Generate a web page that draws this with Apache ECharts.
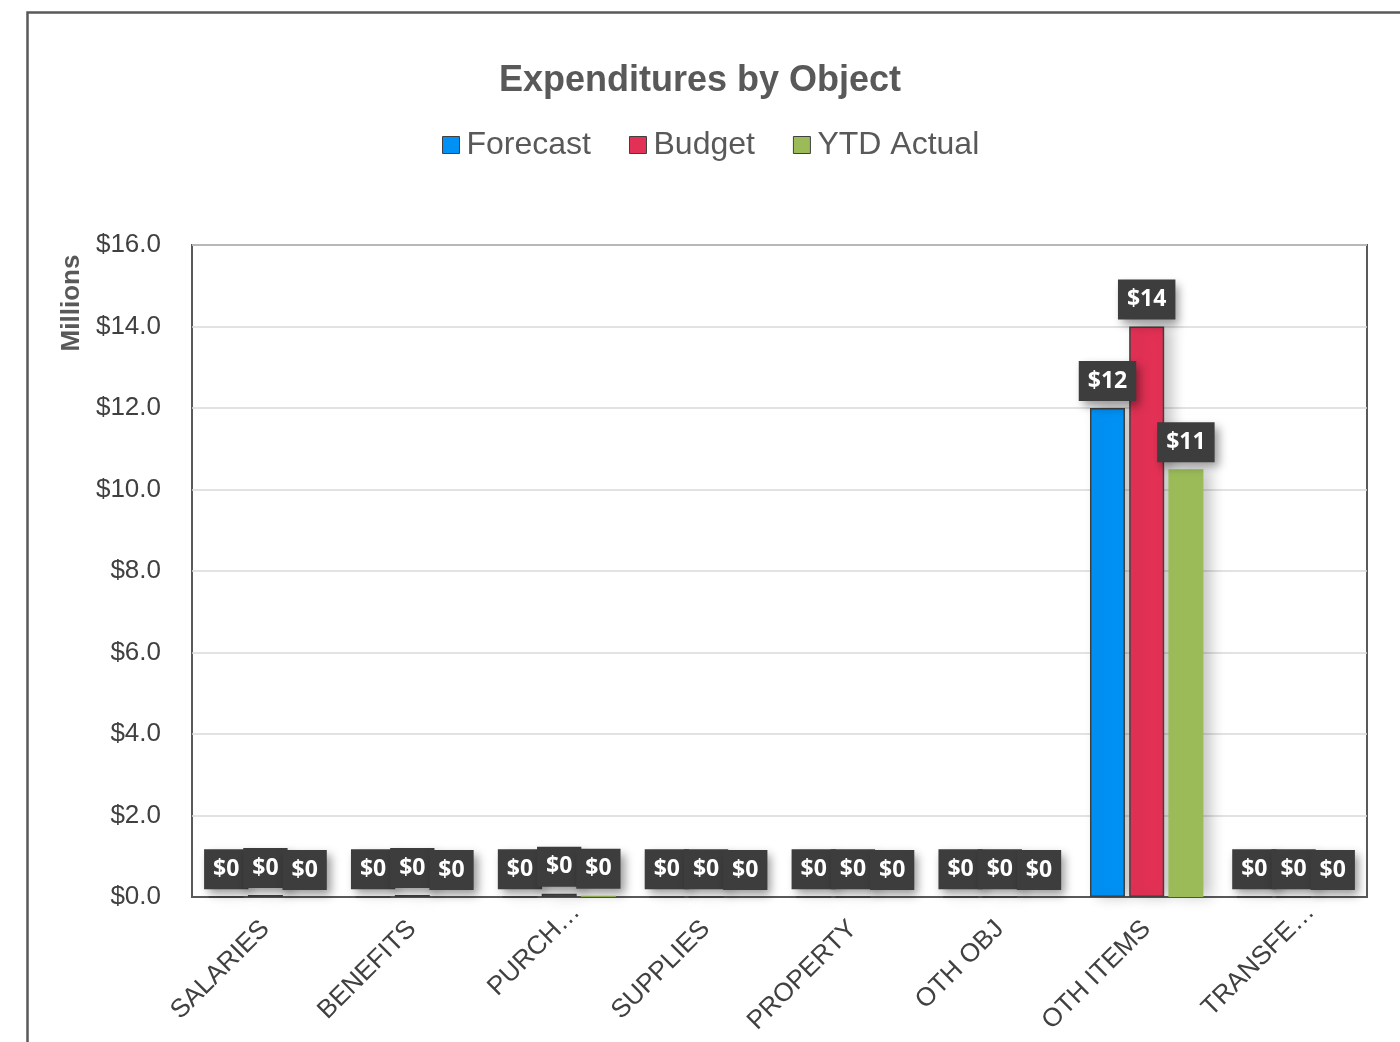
<!DOCTYPE html>
<html>
<head>
<meta charset="utf-8">
<title>Expenditures by Object</title>
<script src="https://cdn.jsdelivr.net/npm/echarts@6/dist/echarts.min.js"></script>
<style>
  html, body { margin: 0; padding: 0; background: #ffffff; }
  #chart { width: 1400px; height: 1042px; }
</style>
</head>
<body>
<div id="chart"></div>
<script>
// Expenditure categories (labels as printed on the axis)
const categories = ['SALARIES', 'BENEFITS', 'PURCH…', 'SUPPLIES', 'PROPERTY', 'OTH OBJ', 'OTH ITEMS', 'TRANSFE…'];

// Amounts in millions of dollars
const forecast  = [0, 0, 0, 0, 0, 0, 12.0, 0];
const budget    = [0.05, 0.05, 0.08, 0, 0, 0, 14.0, 0];
const ytdActual = [0, 0, 0.03, 0, 0, 0, 10.5, 0];

// Y axis ticks
const yTicks = { min: 0, max: 16, interval: 2 };

const font = 'Liberation Sans, Arial, sans-serif';
const textDark = '#404040';

// Truncated names hang a little past their tick
const categoryItems = categories.map(c =>
  c.endsWith('…') ? { value: c, textStyle: { padding: [0, -24, 0, 0] } } : c
);

const valueLabel = {
  show: true,
  position: 'top',
  distance: 7,
  formatter: p => '$' + Math.round(p.value),
  color: '#ffffff',
  fontFamily: 'Open Sans, sans-serif',
  fontWeight: 'bold',
  fontSize: 23,
  lineHeight: 28,
  backgroundColor: '#3d3d3d',
  padding: [6, 9],
  shadowColor: 'rgba(0,0,0,0.4)',
  shadowBlur: 9,
  shadowOffsetX: 4,
  shadowOffsetY: 5
};

function barSeries(name, data, color, withBorder) {
  return {
    name: name,
    type: 'bar',
    data: data,
    barWidth: 35,
    barGap: '12%',
    itemStyle: {
      color: color,
      borderColor: withBorder ? '#404040' : color,
      borderWidth: withBorder ? 1.5 : 0,
      shadowColor: 'rgba(0,0,0,0.22)',
      shadowBlur: 14,
      shadowOffsetX: 8,
      shadowOffsetY: 0
    },
    label: valueLabel
  };
}

const chart = echarts.init(document.getElementById('chart'), null, { renderer: 'canvas' });

chart.setOption({
  animation: false,
  backgroundColor: '#ffffff',
  title: {
    text: 'Expenditures by Object',
    left: 'center',
    top: 58,
    textStyle: { fontFamily: font, fontSize: 36, fontWeight: 'bold', color: '#595959' }
  },
  legend: {
    top: 124,
    left: 437,
    itemGap: 38,
    itemWidth: 17,
    itemHeight: 17,
    icon: 'rect',
    textStyle: { fontFamily: font, fontSize: 32, color: '#595959', padding: [0, 0, 0, 2] },
    itemStyle: { borderColor: '#404040', borderWidth: 1 },
    data: ['Forecast', 'Budget', 'YTD Actual']
  },
  grid: {
    left: 192,
    top: 245,
    right: 33,
    bottom: 145,
    show: true,
    borderColor: '#595959',
    borderWidth: 2,
    containLabel: false
  },
  xAxis: {
    type: 'category',
    data: categoryItems,
    axisLine: { show: true, lineStyle: { color: '#595959', width: 2 } },
    axisTick: { show: false },
    axisLabel: {
      interval: 0,
      rotate: 45,
      margin: 28,
      fontFamily: font,
      fontSize: 26,
      color: textDark
    }
  },
  yAxis: {
    type: 'value',
    min: yTicks.min,
    max: yTicks.max,
    interval: yTicks.interval,
    axisLine: { show: false },
    axisTick: { show: false },
    splitLine: { lineStyle: { color: '#d9d9d9', width: 1.5 } },
    axisLabel: {
      margin: 31,
      fontFamily: font,
      fontSize: 26,
      color: textDark,
      formatter: v => '$' + v.toFixed(1)
    }
  },
  graphic: [
    {
      type: 'rect',
      left: 25,
      top: 10,
      silent: true,
      z: -10,
      shape: { width: 1420, height: 1100 },
      style: { fill: 'none', stroke: '#595959', lineWidth: 2.5 }
    },
    {
      type: 'text',
      x: 72,
      y: 303,
      rotation: Math.PI / 2,
      style: {
        text: 'Millions',
        fontFamily: font,
        fontSize: 26,
        fontWeight: 'bold',
        fill: '#595959',
        textAlign: 'center',
        textVerticalAlign: 'middle'
      }
    }
  ],
  series: [
    barSeries('Forecast', forecast, '#0091f5', true),
    barSeries('Budget', budget, '#e33155', true),
    barSeries('YTD Actual', ytdActual, '#9bbb59', false)
  ]
});
</script>
</body>
</html>
